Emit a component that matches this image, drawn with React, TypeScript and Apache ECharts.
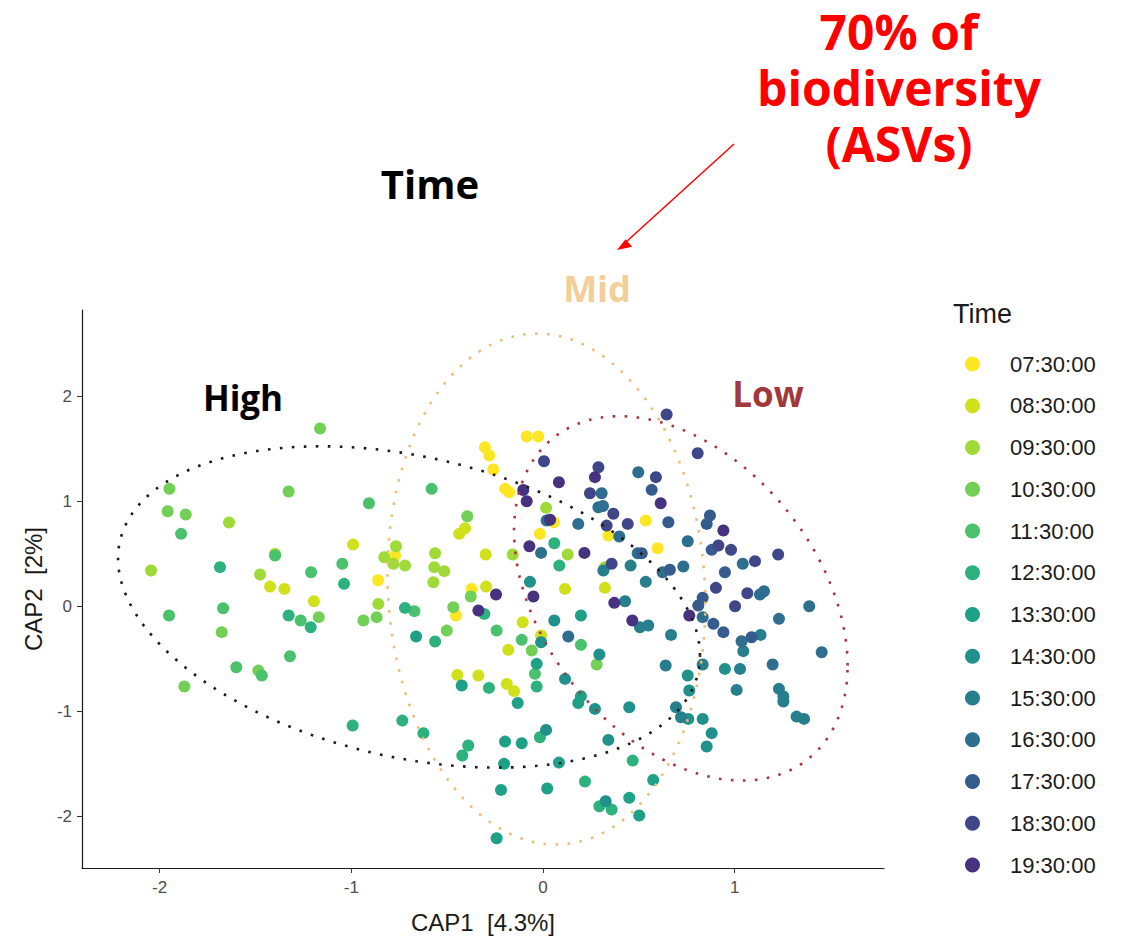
import React, { useEffect, useRef } from "react";
import * as echarts from "echarts";

// Sampling times (legend order) and their viridis colours
const TIMES = [
  "07:30:00", "08:30:00", "09:30:00", "10:30:00", "11:30:00", "12:30:00", "13:30:00",
  "14:30:00", "15:30:00", "16:30:00", "17:30:00", "18:30:00", "19:30:00",
];
const COLORS = [
  "#FDE725", "#D0E11C", "#A0DA39", "#73D056", "#4AC16D", "#2DB27D", "#1FA187",
  "#21918C", "#277F8E", "#2E6E8E", "#365C8D", "#3F4788", "#46327E",
];

// CAP1 / CAP2 scores per sampling time
const t0730 = [
  [-0.085, 1.619], [-0.025, 1.619], [-0.303, 1.517], [-0.28, 1.438], [-0.259, 1.305],
  [-0.198, 1.121], [-0.176, 1.089], [0.057, 0.803], [0.341, 0.676], [-0.016, 0.692],
  [-0.772, 0.486], [-0.86, 0.25], [-0.454, -0.086], [-0.372, 0.168], [0.536, 0.819],
  [0.598, 0.555],
];
const t0830 = [
  [-0.991, 0.59], [-1.424, 0.19], [-1.349, 0.168], [-1.195, 0.05], [-0.407, 0.746],
  [-0.437, 0.692], [-0.299, 0.495], [-0.297, 0.19], [0.115, 0.168], [0.323, 0.178],
  [-0.106, -0.149], [-0.01, -0.276], [-0.181, -0.413], [-0.447, -0.651], [-0.337, -0.657],
  [-0.189, -0.737], [-0.151, -0.806],
];
const t0930 = [
  [-1.638, 0.8], [-1.398, 0.5], [-2.045, 0.343], [-1.476, 0.305], [-0.767, 0.574],
  [-0.828, 0.47], [-0.781, 0.407], [-0.72, 0.39], [-0.563, 0.508], [-0.158, 0.495],
  [-0.567, 0.375], [-0.515, 0.337], [-0.572, 0.231], [-0.859, 0.025], [0.016, 0.94],
  [0.129, 0.495], [0.323, 0.375],
];
const t1030 = [
  [-1.163, 1.695], [-1.949, 1.121], [-1.327, 1.095], [-1.958, 0.908], [-1.864, 0.876],
  [-1.17, -0.101], [-1.676, -0.244], [-1.485, -0.61], [-1.871, -0.762], [-0.395, 0.86],
  [-0.868, -0.101], [-0.937, -0.133], [-0.502, -0.229], [-0.468, -0.006], [-0.377, 0.095],
  [-0.059, -0.419], [0.28, -0.552],
];
const t1130 = [
  [-1.888, 0.692], [-1.398, 0.486], [-1.21, 0.327], [-1.047, 0.407], [-1.951, -0.086],
  [-1.669, -0.016], [-1.264, -0.133], [-1.32, -0.473], [-1.6, -0.578], [-1.467, -0.657],
  [-0.581, 1.121], [-0.908, 0.984], [-0.671, -0.044], [-0.242, -0.229], [-0.111, -0.317],
  [0.198, -0.365], [-0.042, -0.641],
];
const t1230 = [
  [-1.685, 0.375], [-1.038, 0.216], [-1.327, -0.086], [-1.212, -0.197], [-0.993, -1.133],
  [0.059, 0.603], [0.085, 0.39], [-0.72, -0.013], [-0.563, -0.333], [-0.306, -0.07],
  [-0.033, -0.762], [-0.282, -0.775], [-0.734, -1.086], [-0.624, -1.206], [-0.39, -1.324],
  [-0.421, -1.419], [-0.016, -1.245], [0.468, -1.467], [0.219, -1.667], [0.294, -1.902],
  [0.358, -1.933],
];
const t1330 = [
  [-0.662, -0.286], [0.198, -0.086], [-0.033, -0.546], [-0.424, -0.752], [-0.132, -0.918],
  [0.198, -0.854], [0.184, -0.918], [-0.198, -1.286], [-0.111, -1.302], [-0.203, -1.498],
  [0.083, -1.486], [0.575, -1.651], [-0.219, -1.746], [0.022, -1.733], [0.45, -1.822],
  [0.502, -1.99], [-0.242, -2.207],
];
const t1430 = [
  [-0.068, 0.235], [0.059, -0.133], [-0.01, -0.34], [0.294, -0.457], [0.115, -0.689],
  [0.271, -0.975], [0.016, -1.175], [0.341, -1.27], [0.327, -1.854], [0.949, -0.594],
  [0.755, -0.657], [0.763, -0.8], [0.45, -0.959], [0.758, -1.07], [0.833, -1.07],
  [0.88, -1.206], [0.854, -1.333],
];
const t1530 = [
  [0.315, 0.343], [0.457, 0.39], [0.536, 0.235], [0.428, 0.05], [0.506, -0.197],
  [0.549, -0.181], [0.668, -0.27], [1.135, -0.27], [1.045, -0.425], [1.028, -0.594],
  [0.833, -0.552], [0.64, -0.562], [1.01, -0.794], [1.231, -0.784], [1.254, -0.857],
  [1.254, -0.905], [1.323, -1.048], [1.362, -1.07], [0.694, -0.959], [0.72, -1.054],
];
const t1630 = [
  [0.306, 1.079], [0.289, 0.946], [0.313, 0.957], [0.019, 0.819], [0.184, 0.787],
  [-0.01, 0.511], [0.132, -0.286], [0.497, 1.279], [0.398, 0.667], [0.755, 0.622],
  [0.494, 0.508], [1.042, 0.407], [0.732, 0.381], [0.624, 0.327], [0.833, -0.101],
  [1.132, 0.114], [1.153, 0.146], [1.389, 0.003], [1.231, -0.117], [1.036, -0.33],
  [1.454, -0.435], [1.198, -0.552],
];
const t1730 = [
  [0.567, 1.111], [0.515, 0.508], [0.654, 0.803], [0.871, 0.867], [0.854, 0.787],
  [0.88, 0.54], [0.662, 0.35], [0.949, 0.327], [0.81, 0.01], [0.833, 0.083],
  [0.889, -0.165], [0.941, -0.244], [1.088, -0.292],
];
const t1830 = [
  [0.005, 1.384], [0.289, 1.327], [0.245, 1.079], [0.367, 0.883], [0.332, 0.771],
  [0.358, 0.407], [0.645, 1.829], [0.807, 1.46], [0.589, 1.232], [0.442, 0.787],
  [0.915, 0.581], [0.981, 0.54], [1.227, 0.495], [1.106, 0.432], [0.902, 0.178],
  [1.002, 0.003], [1.066, 0.127],
];
const t1930 = [
  [-0.103, 1.11], [-0.085, 1.003], [0.083, 1.184], [0.271, 1.232], [0.037, 0.826],
  [-0.071, 0.574], [0.216, 0.511], [0.614, 0.984], [0.941, 0.724], [-0.245, 0.114],
  [-0.337, -0.038], [-0.05, 0.095], [0.372, 0.035], [0.466, -0.133], [0.763, -0.086],
];
const POINTS_BY_TIME = [
  t0730, t0830, t0930, t1030, t1130, t1230, t1330, t1430, t1530, t1630, t1730, t1830, t1930,
];

// Axis ranges and tick values
const X_RANGE = [-2.405, 1.779];
const Y_RANGE = [-2.49, 2.824];
const X_TICKS = [-2, -1, 0, 1];
const Y_TICKS = [-2, -1, 0, 1, 2];

// Group ellipses: centre plus conjugate semi-axis vectors (data units)
const ELLIPSES = [
  { name: "High", color: "#1A1A1A", cx: -0.699, cy: -0.004, ax: 1.518, ay: -0.4635, bx: 0, by: 1.458 },
  { name: "Mid", color: "#EFBC78", cx: 0.018, cy: 0.1665, ax: 0.829, ay: -0.145, bx: 0, by: 2.429 },
  { name: "Low", color: "#A8363C", cx: 0.719, cy: 0.0775, ax: 0.87, ay: -0.6395, bx: 0, by: 1.6123 },
];

function ellipsePath(e: typeof ELLIPSES[number], steps = 240) {
  const pts: number[][] = [];
  for (let i = 0; i <= steps; i++) {
    const t = (i / steps) * Math.PI * 2;
    pts.push([
      e.cx + e.ax * Math.cos(t) + e.bx * Math.sin(t),
      e.cy + e.ay * Math.cos(t) + e.by * Math.sin(t),
    ]);
  }
  return pts;
}

const AXIS_FONT = "Liberation Sans";
const BOLD_FONT = "Open Sans";

export default function App() {
  const ref = useRef<HTMLDivElement>(null);

  useEffect(() => {
    if (!ref.current) return;
    const chart = echarts.init(ref.current, null, { renderer: "svg" });

    const scatterSeries = TIMES.map((name, i) => ({
      name,
      type: "scatter",
      data: POINTS_BY_TIME[i],
      symbol: "circle",
      symbolSize: 12,
      itemStyle: { color: COLORS[i], opacity: 1 },
      emphasis: { disabled: true },
      z: 2,
    }));

    const ellipseSeries = ELLIPSES.map((e) => ({
      name: e.name,
      type: "line",
      data: ellipsePath(e),
      showSymbol: false,
      symbol: "none",
      smooth: false,
      silent: true,
      lineStyle: { color: e.color, width: 2.6, type: [2.6, 9.4], cap: "butt" },
      z: 3,
    }));

    const axisCommon = {
      type: "value",
      splitLine: { show: false },
      axisLine: { show: true, onZero: false, lineStyle: { color: "#1A1A1A", width: 1.2 } },
      axisTick: { show: true, length: 5, lineStyle: { color: "#333333", width: 1 } },
      nameTextStyle: { fontFamily: AXIS_FONT, fontSize: 24, color: "#1A1A1A" },
    };

    const arrowTip = [617, 250];
    const arrowTail = [734, 144];

    chart.setOption({
      animation: false,
      backgroundColor: "#FFFFFF",
      grid: { left: 82, top: 310, width: 802, height: 558, containLabel: false, outerBoundsMode: "none" },
      xAxis: {
        ...axisCommon,
        min: X_RANGE[0],
        max: X_RANGE[1],
        name: "CAP1  [4.3%]",
        nameLocation: "middle",
        nameGap: 42,
        axisTick: { ...axisCommon.axisTick, customValues: X_TICKS },
        axisLabel: {
          customValues: X_TICKS,
          fontFamily: AXIS_FONT,
          fontSize: 17,
          color: "#4D4D4D",
          margin: 11,
        },
      },
      yAxis: {
        ...axisCommon,
        min: Y_RANGE[0],
        max: Y_RANGE[1],
        name: "CAP2  [2%]",
        nameLocation: "middle",
        nameGap: 23,
        nameRotate: 90,
        axisTick: { ...axisCommon.axisTick, customValues: Y_TICKS },
        axisLabel: {
          customValues: Y_TICKS,
          fontFamily: AXIS_FONT,
          fontSize: 17,
          color: "#4D4D4D",
          margin: 10,
        },
      },
      legend: {
        data: TIMES,
        orient: "vertical",
        left: 960,
        top: 348,
        icon: "circle",
        itemWidth: 15,
        itemHeight: 15,
        itemGap: 19.75,
        selectedMode: false,
        textStyle: {
          fontFamily: AXIS_FONT,
          fontSize: 22,
          color: "#1A1A1A",
          lineHeight: 22,
          padding: [0, 0, 0, 25],
        },
      },
      series: [...scatterSeries, ...ellipseSeries],
      graphic: [
        {
          type: "text",
          x: 953,
          y: 314,
          style: { text: "Time", fontFamily: AXIS_FONT, fontSize: 27, fill: "#1A1A1A", textAlign: "left", textVerticalAlign: "middle" },
        },
        {
          type: "text",
          x: 430,
          y: 183,
          style: { text: "Time", fontFamily: BOLD_FONT, fontWeight: "bold", fontSize: 40, fill: "#000000", textAlign: "center", textVerticalAlign: "middle" },
        },
        {
          type: "text",
          x: 899,
          y: 87,
          style: {
            text: "70% of\nbiodiversity\n(ASVs)",
            fontFamily: BOLD_FONT,
            fontWeight: "bold",
            fontSize: 48,
            lineHeight: 56,
            fill: "#FF0000",
            textAlign: "center",
            textVerticalAlign: "middle",
          },
        },
        {
          type: "text",
          x: 597,
          y: 288,
          style: { text: "Mid", fontFamily: BOLD_FONT, fontWeight: "bold", fontSize: 36, fill: "#F2CE98", textAlign: "center", textVerticalAlign: "middle" },
        },
        {
          type: "text",
          x: 243,
          y: 397,
          style: { text: "High", fontFamily: BOLD_FONT, fontWeight: "bold", fontSize: 35, fill: "#000000", textAlign: "center", textVerticalAlign: "middle" },
        },
        {
          type: "text",
          x: 768,
          y: 393,
          style: { text: "Low", fontFamily: BOLD_FONT, fontWeight: "bold", fontSize: 35, fill: "#A2373C", textAlign: "center", textVerticalAlign: "middle" },
        },
        {
          type: "line",
          shape: { x1: arrowTail[0], y1: arrowTail[1], x2: arrowTip[0] + 9, y2: arrowTip[1] - 8 },
          style: { stroke: "#FF0000", lineWidth: 1.5 },
        },
        {
          type: "polygon",
          shape: {
            points: [
              [arrowTip[0], arrowTip[1]],
              [arrowTip[0] + 15.2, arrowTip[1] - 3.3],
              [arrowTip[0] + 8.5, arrowTip[1] - 10.7],
            ],
          },
          style: { fill: "#FF0000" },
        },
      ],
    });

    return () => chart.dispose();
  }, []);

  return (
    <div
      ref={ref}
      style={{ position: "absolute", left: 0, top: 0, width: 1133, height: 942 }}
    />
  );
}
